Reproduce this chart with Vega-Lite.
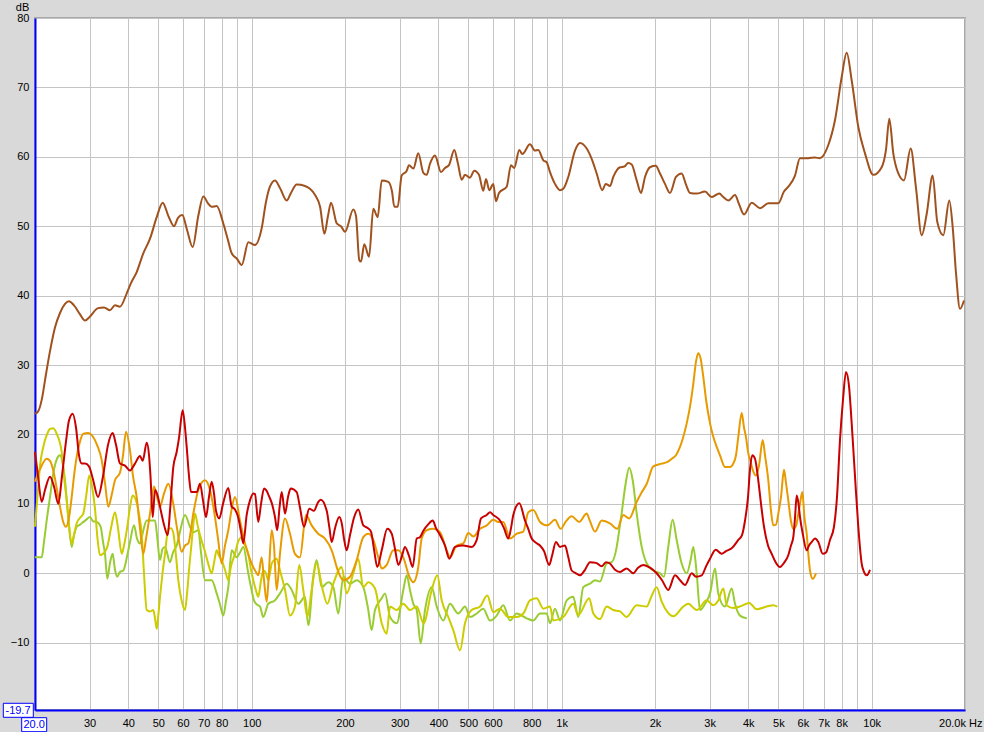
{
"$schema": "https://vega.github.io/schema/vega-lite/v6.json",
"width": 930, "height": 692,
"autosize": {"type": "none"},
"padding": {"left": 35, "top": 18, "right": 19, "bottom": 22},
"background": "#d9d9d9",
"config": {
  "view": {"fill": "white", "stroke": "#a8a8a8", "strokeWidth": 2},
  "font": "Liberation Sans",
  "axis": {"labelFont": "Liberation Sans", "labelFontSize": 11, "labelColor": "#000000", "gridColor": "#c4c4c4", "gridWidth": 1, "ticks": false, "domainColor": "#0000ff", "domainWidth": 2, "titleFont": "Liberation Sans"}
},
"datasets": {
"brown": [
{"f":20,"db":23.0},{"f":20.45,"db":23.3},{"f":21.07,"db":25.2},{"f":21.54,"db":27.8},{"f":22.36,"db":32.0},{"f":23.2,"db":35.4},{"f":24.08,"db":37.5},{"f":24.99,"db":38.8},{"f":25.75,"db":39.2},{"f":26.72,"db":38.6},{"f":27.95,"db":37.3},{"f":29.0,"db":36.4},{"f":30.1,"db":37.0},{"f":31.94,"db":38.2},{"f":33.39,"db":38.3},{"f":34.91,"db":37.9},{"f":36.23,"db":38.6},{"f":37.59,"db":38.4},{"f":39.51,"db":40.3},{"f":40.8,"db":41.8},{"f":42.57,"db":43.4},{"f":44.71,"db":46.1},{"f":46.99,"db":48.2},{"f":49.39,"db":51.3},{"f":51.64,"db":53.4},{"f":53.83,"db":51.5},{"f":56.16,"db":50.0},{"f":57.85,"db":51.2},{"f":59.73,"db":51.6},{"f":61.85,"db":49.5},{"f":64.52,"db":47.0},{"f":67.27,"db":51.5},{"f":69.81,"db":54.3},{"f":72.29,"db":53.3},{"f":74.31,"db":52.8},{"f":77.11,"db":52.9},{"f":81.0,"db":50.4},{"f":83.87,"db":48.0},{"f":86.21,"db":46.1},{"f":89.67,"db":45.3},{"f":92.86,"db":44.4},{"f":97.53,"db":47.7},{"f":102.5,"db":47.3},{"f":107.7,"db":49.7},{"f":111.2,"db":53.5},{"f":114.5,"db":55.7},{"f":118.9,"db":56.6},{"f":123.4,"db":55.5},{"f":129.7,"db":53.7},{"f":133.9,"db":54.8},{"f":139.7,"db":56.0},{"f":148.6,"db":55.8},{"f":160.1,"db":54.5},{"f":166.2,"db":52.8},{"f":171.6,"db":48.9},{"f":176.3,"db":51.5},{"f":180.3,"db":53.4},{"f":188.1,"db":50.4},{"f":194.1,"db":50.0},{"f":200,"db":49.2},{"f":212.7,"db":52.4},{"f":217.0,"db":51.5},{"f":222.4,"db":45.1},{"f":225.2,"db":44.9},{"f":230.8,"db":47.4},{"f":239.1,"db":45.6},{"f":246.8,"db":52.5},{"f":255.0,"db":51.3},{"f":262.7,"db":56.6},{"f":275.9,"db":56.4},{"f":283.6,"db":55.0},{"f":288.5,"db":52.8},{"f":295.8,"db":52.8},{"f":304.7,"db":57.3},{"f":316.3,"db":58.0},{"f":321.7,"db":58.8},{"f":332.2,"db":58.3},{"f":344.7,"db":60.5},{"f":357.8,"db":57.7},{"f":366.9,"db":57.4},{"f":376.0,"db":59.0},{"f":390.2,"db":60.2},{"f":408.0,"db":57.8},{"f":420.3,"db":58.4},{"f":432.9,"db":58.8},{"f":450.3,"db":61.0},{"f":462.9,"db":59.0},{"f":475.8,"db":56.7},{"f":487.6,"db":57.4},{"f":506.0,"db":57.0},{"f":522.5,"db":58.0},{"f":541.0,"db":57.4},{"f":558.6,"db":55.1},{"f":569.9,"db":56.8},{"f":584.1,"db":55.2},{"f":601.7,"db":56.1},{"f":613.9,"db":53.6},{"f":627.7,"db":54.8},{"f":664.6,"db":55.7},{"f":686.2,"db":58.8},{"f":703.2,"db":58.4},{"f":729.9,"db":61.0},{"f":746.3,"db":60.4},{"f":790.2,"db":61.8},{"f":820.2,"db":60.9},{"f":840.5,"db":61.0},{"f":872.4,"db":59.5},{"f":894.6,"db":59.2},{"f":916.8,"db":57.8},{"f":951.5,"db":56.1},{"f":987.4,"db":55.2},{"f":1012,"db":55.4},{"f":1050,"db":57.1},{"f":1104,"db":60.9},{"f":1146,"db":62.0},{"f":1204,"db":61.2},{"f":1255,"db":59.5},{"f":1297,"db":57.6},{"f":1352,"db":55.2},{"f":1387,"db":56.1},{"f":1432,"db":55.8},{"f":1467,"db":57.1},{"f":1542,"db":58.5},{"f":1592,"db":58.6},{"f":1640,"db":59.1},{"f":1682,"db":58.9},{"f":1746,"db":56.6},{"f":1802,"db":54.8},{"f":1857,"db":57.1},{"f":1927,"db":58.5},{"f":2010,"db":58.7},{"f":2076,"db":57.6},{"f":2154,"db":56.1},{"f":2236,"db":54.8},{"f":2337,"db":57.1},{"f":2438,"db":57.6},{"f":2518,"db":56.0},{"f":2594,"db":54.8},{"f":2726,"db":54.7},{"f":2899,"db":55.0},{"f":3047,"db":54.2},{"f":3146,"db":54.5},{"f":3224,"db":54.7},{"f":3322,"db":54.2},{"f":3447,"db":53.7},{"f":3623,"db":54.5},{"f":3732,"db":53.2},{"f":3874,"db":51.7},{"f":4102,"db":53.4},{"f":4362,"db":52.6},{"f":4641,"db":53.3},{"f":4997,"db":53.3},{"f":5213,"db":55.0},{"f":5383,"db":55.7},{"f":5658,"db":57.3},{"f":5871,"db":59.8},{"f":6244,"db":59.8},{"f":6562,"db":59.9},{"f":6810,"db":59.8},{"f":7246,"db":61.7},{"f":7616,"db":65.3},{"f":8004,"db":71.5},{"f":8307,"db":75.0},{"f":8621,"db":71.0},{"f":9055,"db":64.3},{"f":9515,"db":60.5},{"f":10120,"db":57.4},{"f":10770,"db":58.5},{"f":11120,"db":61.0},{"f":11400,"db":65.5},{"f":11740,"db":60.5},{"f":12190,"db":57.6},{"f":12710,"db":56.6},{"f":13360,"db":61.2},{"f":13900,"db":55.5},{"f":14500,"db":48.7},{"f":15050,"db":51.8},{"f":15730,"db":57.3},{"f":16280,"db":50.6},{"f":17020,"db":48.7},{"f":17800,"db":53.7},{"f":18250,"db":49.9},{"f":18710,"db":43.2},{"f":19270,"db":38.1},{"f":19850,"db":39.3}
],
"green": [
{"f":20,"db":2.3},{"f":21.02,"db":2.3},{"f":21.38,"db":4.5},{"f":21.81,"db":7.6},{"f":22.36,"db":11},{"f":22.91,"db":14.4},{"f":23.55,"db":16.5},{"f":24.08,"db":17},{"f":24.53,"db":16},{"f":24.99,"db":13.4},{"f":25.55,"db":8.5},{"f":26.27,"db":3.8},{"f":26.72,"db":5.5},{"f":27.26,"db":6.7},{"f":27.94,"db":7},{"f":28.63,"db":7.4},{"f":29.22,"db":7.7},{"f":30.09,"db":8.1},{"f":30.77,"db":7.5},{"f":31.63,"db":7.4},{"f":32.58,"db":6.7},{"f":33.15,"db":4.5},{"f":33.64,"db":2.8},{"f":34.22,"db":-0.8},{"f":34.91,"db":1.5},{"f":35.61,"db":2.8},{"f":36.23,"db":0.5},{"f":36.85,"db":-0.5},{"f":37.6,"db":0.2},{"f":38.54,"db":0.4},{"f":39.7,"db":2.6},{"f":40.5,"db":4.5},{"f":41.72,"db":6.9},{"f":42.67,"db":5},{"f":43.62,"db":4.3},{"f":44.61,"db":6},{"f":45.85,"db":7.6},{"f":46.99,"db":7.6},{"f":48.77,"db":7.6},{"f":49.5,"db":5.5},{"f":50.61,"db":1.9},{"f":51.56,"db":3.5},{"f":52.53,"db":3.8},{"f":54.51,"db":1.6},{"f":55.75,"db":3},{"f":57.3,"db":4},{"f":58.72,"db":6},{"f":60.94,"db":8.4},{"f":63.24,"db":6.7},{"f":64.81,"db":5.9},{"f":67.27,"db":6.2},{"f":68.63,"db":3},{"f":70.7,"db":-1},{"f":74.3,"db":-1},{"f":77.12,"db":-2.9},{"f":79.03,"db":-4.5},{"f":81.0,"db":-6.1},{"f":82.63,"db":-4},{"f":84.05,"db":-2},{"f":86.19,"db":3.3},{"f":89.46,"db":2.3},{"f":91.68,"db":3},{"f":93.95,"db":3.8},{"f":97.5,"db":0},{"f":99.5,"db":-2},{"f":101.7,"db":-3.9},{"f":104.0,"db":-4.5},{"f":106.4,"db":-4.8},{"f":109.0,"db":-6.3},{"f":113.1,"db":-4.4},{"f":118.9,"db":-3.9},{"f":123.4,"db":-2.9},{"f":129.7,"db":-1.5},{"f":134.6,"db":-2.4},{"f":141.3,"db":-4.4},{"f":148.6,"db":-3.4},{"f":152.3,"db":-7.5},{"f":158.0,"db":-0.5},{"f":162.0,"db":1.9},{"f":168.2,"db":-2},{"f":176.6,"db":-1.3},{"f":183.4,"db":-2},{"f":190.3,"db":-5.8},{"f":197.5,"db":-0.5},{"f":207.6,"db":-1.5},{"f":218.1,"db":-1},{"f":229.1,"db":-2},{"f":237.2,"db":-5},{"f":243.8,"db":-8.2},{"f":249.9,"db":-5.3},{"f":262.7,"db":-3.6},{"f":269.2,"db":-2.9},{"f":279.4,"db":-6.3},{"f":293.7,"db":-7.2},{"f":308.4,"db":-2.4},{"f":316.3,"db":-0.3},{"f":324.1,"db":-2.4},{"f":332.2,"db":-4.4},{"f":340.7,"db":-5.3},{"f":350.9,"db":-10.1},{"f":362.3,"db":-5.3},{"f":380.8,"db":-2},{"f":395.3,"db":-4.8},{"f":415.0,"db":-6.8},{"f":436.2,"db":-4.4},{"f":464.0,"db":-5.8},{"f":487.7,"db":-4.8},{"f":506.2,"db":-6.3},{"f":532.0,"db":-5.8},{"f":558.6,"db":-5.1},{"f":587.2,"db":-6.8},{"f":617.2,"db":-6.1},{"f":648.1,"db":-4.6},{"f":681.2,"db":-6.8},{"f":716.0,"db":-5.8},{"f":771.1,"db":-6.5},{"f":810.0,"db":-6.8},{"f":851.2,"db":-5.8},{"f":894.6,"db":-5.8},{"f":916.8,"db":-7.2},{"f":951.5,"db":-5.1},{"f":987.5,"db":-6.8},{"f":1038,"db":-3.9},{"f":1090,"db":-3.4},{"f":1131,"db":-6.3},{"f":1174,"db":-2},{"f":1234,"db":-1.5},{"f":1281,"db":-1},{"f":1329,"db":-1.2},{"f":1396,"db":1.4},{"f":1450,"db":1.6},{"f":1505,"db":3.8},{"f":1531,"db":6},{"f":1561,"db":8.6},{"f":1608,"db":12.9},{"f":1651,"db":15.2},{"f":1695,"db":13.4},{"f":1746,"db":8.6},{"f":1812,"db":3.8},{"f":1881,"db":1.4},{"f":1975,"db":0.4},{"f":2076,"db":0},{"f":2138,"db":-0.5},{"f":2207,"db":3.8},{"f":2280,"db":7.7},{"f":2349,"db":4.8},{"f":2438,"db":1.4},{"f":2531,"db":0},{"f":2606,"db":1.9},{"f":2658,"db":3.8},{"f":2726,"db":0},{"f":2794,"db":-5.3},{"f":2900,"db":-4.4},{"f":3010,"db":-2.9},{"f":3123,"db":0.7},{"f":3200,"db":-2.9},{"f":3364,"db":-4.8},{"f":3535,"db":-2.2},{"f":3623,"db":-4.4},{"f":3760,"db":-6.1},{"f":3957,"db":-6.5}
],
"yellow": [
{"f":20,"db":6.7},{"f":20.45,"db":12},{"f":20.76,"db":15.5},{"f":21.27,"db":18.2},{"f":21.86,"db":20},{"f":22.36,"db":20.8},{"f":22.91,"db":20.9},{"f":23.55,"db":20},{"f":24.38,"db":17.5},{"f":24.8,"db":14},{"f":25.31,"db":10.5},{"f":25.74,"db":7},{"f":26.27,"db":4.3},{"f":26.72,"db":5.5},{"f":27.26,"db":7.2},{"f":27.94,"db":8},{"f":28.63,"db":8.6},{"f":29.22,"db":11},{"f":29.93,"db":14.1},{"f":30.54,"db":12.5},{"f":31.23,"db":9.3},{"f":31.82,"db":5},{"f":32.41,"db":2.6},{"f":33.15,"db":2.8},{"f":34.22,"db":3.8},{"f":35.17,"db":6.5},{"f":36.23,"db":8.8},{"f":37.05,"db":6.5},{"f":38.08,"db":2.8},{"f":38.74,"db":4},{"f":39.7,"db":6.7},{"f":40.5,"db":9.5},{"f":41.32,"db":11.2},{"f":42.56,"db":10.2},{"f":43.3,"db":8.5},{"f":44.18,"db":5.7},{"f":44.94,"db":0},{"f":45.85,"db":-5.3},{"f":46.99,"db":-5.5},{"f":48.16,"db":-5.3},{"f":48.77,"db":-6.5},{"f":49.39,"db":-8},{"f":49.87,"db":-6.5},{"f":50.61,"db":-3.4},{"f":51.56,"db":0},{"f":52.53,"db":2.8},{"f":53.83,"db":6.4},{"f":54.92,"db":6.5},{"f":55.87,"db":5.8},{"f":57.0,"db":2.5},{"f":57.98,"db":-1},{"f":59.16,"db":-3.5},{"f":60.94,"db":-5.3},{"f":61.85,"db":-3},{"f":62.9,"db":0.9},{"f":64.19,"db":5},{"f":65.64,"db":8.6},{"f":66.87,"db":7},{"f":68.12,"db":5.5},{"f":70.7,"db":3.1},{"f":72.29,"db":1.5},{"f":74.3,"db":0},{"f":75.59,"db":1.5},{"f":77.12,"db":3.3},{"f":78.45,"db":2.5},{"f":80.03,"db":1.9},{"f":82.02,"db":0.5},{"f":84.05,"db":-1},{"f":85.75,"db":1},{"f":88.34,"db":2.8},{"f":90.33,"db":4.5},{"f":92.84,"db":5.2},{"f":95.15,"db":4},{"f":97.5,"db":2.8},{"f":99.5,"db":0.5},{"f":101.2,"db":-1},{"f":103.3,"db":-2.5},{"f":105.0,"db":-3.4},{"f":107.2,"db":-1},{"f":109.0,"db":0.4},{"f":111.2,"db":0},{"f":113.1,"db":-1},{"f":116.3,"db":1.5},{"f":120.4,"db":2.1},{"f":123.4,"db":0.4},{"f":128.1,"db":-2.4},{"f":132.9,"db":-6.1},{"f":137.9,"db":-4.8},{"f":142.4,"db":1.2},{"f":146.7,"db":-2.4},{"f":151.2,"db":-6.3},{"f":156.1,"db":-2.4},{"f":162.0,"db":1.4},{"f":169.5,"db":-2.4},{"f":175.3,"db":-4.4},{"f":183.4,"db":-1.5},{"f":195.1,"db":0.9},{"f":202.5,"db":-2.9},{"f":212.7,"db":0},{"f":220.7,"db":2.1},{"f":229.1,"db":-2},{"f":237.7,"db":-1.3},{"f":249.9,"db":-2.2},{"f":262.7,"db":-7.2},{"f":272.6,"db":-8.7},{"f":279.4,"db":-4.8},{"f":293.7,"db":-5.3},{"f":308.4,"db":-4.4},{"f":324.1,"db":-5.3},{"f":340.7,"db":-4.8},{"f":358.7,"db":-7.2},{"f":380.8,"db":-2.4},{"f":397.0,"db":-0.3},{"f":410.1,"db":-3.9},{"f":430.7,"db":-6.3},{"f":447.1,"db":-8.2},{"f":469.9,"db":-11.1},{"f":487.7,"db":-7.2},{"f":512.5,"db":-5.3},{"f":545.2,"db":-4.8},{"f":575.5,"db":-3.2},{"f":601.7,"db":-5.6},{"f":632.4,"db":-5.1},{"f":672.6,"db":-6.3},{"f":716.0,"db":-6.3},{"f":751.9,"db":-5.8},{"f":790.3,"db":-3.9},{"f":830.6,"db":-3.6},{"f":872.3,"db":-5.1},{"f":916.8,"db":-4.8},{"f":939.5,"db":-6.8},{"f":1012,"db":-6.3},{"f":1090,"db":-4.4},{"f":1131,"db":-6},{"f":1227,"db":-3.6},{"f":1265,"db":-5.8},{"f":1329,"db":-6.6},{"f":1396,"db":-4.8},{"f":1467,"db":-5.3},{"f":1542,"db":-5.5},{"f":1620,"db":-6.3},{"f":1746,"db":-4.6},{"f":1881,"db":-4.8},{"f":1941,"db":-3.5},{"f":2025,"db":-2},{"f":2102,"db":-4.1},{"f":2186,"db":-5.5},{"f":2291,"db":-6.2},{"f":2467,"db":-4.8},{"f":2560,"db":-4.4},{"f":2726,"db":-5.3},{"f":2937,"db":-3.9},{"f":3083,"db":-4.6},{"f":3193,"db":-4},{"f":3322,"db":-2.2},{"f":3407,"db":-4.6},{"f":3570,"db":-5},{"f":3760,"db":-4.8},{"f":4028,"db":-4.3},{"f":4256,"db":-5.2},{"f":4585,"db":-4.8},{"f":4815,"db":-4.6},{"f":4961,"db":-4.8}
],
"orange": [
{"f":20,"db":13.2},{"f":20.76,"db":15},{"f":21.81,"db":16.5},{"f":22.36,"db":16.2},{"f":22.91,"db":14.8},{"f":23.55,"db":12},{"f":24.08,"db":9.6},{"f":24.62,"db":7.5},{"f":25.18,"db":6.7},{"f":25.74,"db":8},{"f":26.27,"db":11},{"f":26.72,"db":14},{"f":27.26,"db":16.8},{"f":27.94,"db":19},{"f":28.63,"db":20.1},{"f":29.65,"db":20.2},{"f":30.84,"db":19.6},{"f":31.7,"db":18.5},{"f":32.82,"db":16.3},{"f":33.64,"db":13},{"f":34.47,"db":9.6},{"f":35.43,"db":11.5},{"f":36.23,"db":13.4},{"f":37.6,"db":14.5},{"f":38.46,"db":17},{"f":39.32,"db":20.4},{"f":40.5,"db":17.7},{"f":41.42,"db":14},{"f":42.56,"db":11},{"f":43.62,"db":6.5},{"f":44.71,"db":2.8},{"f":45.62,"db":5},{"f":46.99,"db":8.6},{"f":48.41,"db":12.5},{"f":49.5,"db":11},{"f":50.61,"db":9.6},{"f":52.14,"db":11.5},{"f":53.83,"db":12.9},{"f":55.87,"db":10},{"f":57.43,"db":6.5},{"f":59.46,"db":3.1},{"f":60.94,"db":4},{"f":62.45,"db":4.3},{"f":64.81,"db":8.6},{"f":67.27,"db":12},{"f":70.7,"db":13.4},{"f":73.37,"db":12},{"f":76.15,"db":8.1},{"f":77.87,"db":5},{"f":80.03,"db":1.4},{"f":82.02,"db":4},{"f":84.05,"db":6.2},{"f":86.4,"db":9.5},{"f":88.34,"db":11},{"f":91.68,"db":7.6},{"f":95.15,"db":4.3},{"f":100.0,"db":1.4},{"f":103.8,"db":0},{"f":105.0,"db":-0.3},{"f":107.7,"db":2.3},{"f":109.6,"db":-1},{"f":111.8,"db":-4.1},{"f":113.3,"db":-1},{"f":116.0,"db":6.2},{"f":118.0,"db":4},{"f":120.4,"db":-2.4},{"f":123.4,"db":2.8},{"f":128.1,"db":7.9},{"f":132.9,"db":5.7},{"f":137.9,"db":2.8},{"f":143.1,"db":2.3},{"f":149.7,"db":8.4},{"f":156.1,"db":6.9},{"f":163.9,"db":5.7},{"f":172.4,"db":5},{"f":181.2,"db":3.3},{"f":190.3,"db":0.2},{"f":197.5,"db":-1},{"f":207.6,"db":-0.5},{"f":218.1,"db":1.9},{"f":229.1,"db":5.2},{"f":237.7,"db":5.7},{"f":246.8,"db":4.8},{"f":256.1,"db":2.3},{"f":262.7,"db":0.7},{"f":272.6,"db":1.2},{"f":286.3,"db":3.3},{"f":297.2,"db":3.3},{"f":308.4,"db":2.3},{"f":322.6,"db":-0.5},{"f":332.2,"db":-1.3},{"f":344.7,"db":0.9},{"f":353.5,"db":5},{"f":366.9,"db":6.2},{"f":385.4,"db":6.4},{"f":405.1,"db":5.9},{"f":425.6,"db":3.3},{"f":436.2,"db":2.3},{"f":458.5,"db":4},{"f":481.6,"db":4.3},{"f":499.8,"db":5.8},{"f":518.7,"db":5.3},{"f":545.2,"db":6.4},{"f":573.0,"db":6.9},{"f":601.7,"db":7.7},{"f":624.5,"db":7.4},{"f":648.1,"db":7.4},{"f":681.2,"db":5},{"f":716.0,"db":5.7},{"f":751.9,"db":6},{"f":780.4,"db":8.8},{"f":810.0,"db":9.1},{"f":851.2,"db":7.4},{"f":898.6,"db":6.9},{"f":951.5,"db":7.7},{"f":992.7,"db":6.4},{"f":1033,"db":7.5},{"f":1077,"db":8.2},{"f":1139,"db":7.4},{"f":1204,"db":8.6},{"f":1234,"db":7.5},{"f":1281,"db":6},{"f":1346,"db":7.6},{"f":1431,"db":7.2},{"f":1511,"db":6.4},{"f":1580,"db":8.4},{"f":1651,"db":7.9},{"f":1746,"db":10.3},{"f":1803,"db":11.5},{"f":1881,"db":12.9},{"f":1975,"db":15.4},{"f":2102,"db":15.8},{"f":2186,"db":16},{"f":2264,"db":16.5},{"f":2337,"db":17},{"f":2408,"db":18.2},{"f":2462,"db":19.5},{"f":2531,"db":21.6},{"f":2594,"db":24},{"f":2658,"db":27.3},{"f":2712,"db":30.5},{"f":2758,"db":31.7},{"f":2804,"db":31},{"f":2863,"db":28.3},{"f":2922,"db":25},{"f":3010,"db":21.6},{"f":3077,"db":19.8},{"f":3163,"db":18.2},{"f":3241,"db":17},{"f":3364,"db":15.3},{"f":3491,"db":15.3},{"f":3577,"db":15.8},{"f":3650,"db":17},{"f":3712,"db":19.6},{"f":3808,"db":23.1},{"f":3874,"db":21},{"f":3932,"db":19.6},{"f":3991,"db":17.5},{"f":4071,"db":16},{"f":4141,"db":14.8},{"f":4234,"db":14.1},{"f":4330,"db":15.5},{"f":4451,"db":19.2},{"f":4528,"db":17},{"f":4640,"db":13.4},{"f":4734,"db":9},{"f":4815,"db":6.9},{"f":4913,"db":7},{"f":4998,"db":8.6},{"f":5099,"db":11},{"f":5214,"db":14.9},{"f":5292,"db":13},{"f":5383,"db":10.5},{"f":5492,"db":7.5},{"f":5587,"db":6.4},{"f":5700,"db":6.8},{"f":5798,"db":8.6},{"f":5872,"db":10},{"f":5976,"db":11.7},{"f":6071,"db":8},{"f":6171,"db":5.7},{"f":6254,"db":2.5},{"f":6324,"db":0.4},{"f":6452,"db":-0.8},{"f":6613,"db":0}
],
"red": [
{"f":20,"db":17.5},{"f":20.45,"db":14},{"f":21.02,"db":10.3},{"f":21.54,"db":12},{"f":22.36,"db":13.9},{"f":23.03,"db":12.5},{"f":23.78,"db":10},{"f":24.44,"db":14},{"f":25.18,"db":19},{"f":25.74,"db":22},{"f":26.46,"db":23},{"f":27.12,"db":21},{"f":27.73,"db":17},{"f":28.3,"db":15.8},{"f":29.0,"db":15.8},{"f":29.87,"db":15.4},{"f":30.77,"db":13.5},{"f":31.93,"db":11},{"f":33.15,"db":14},{"f":34.4,"db":18.5},{"f":35.61,"db":20.2},{"f":36.5,"db":18.5},{"f":37.6,"db":15.8},{"f":39.03,"db":15.5},{"f":40.5,"db":14.8},{"f":42.03,"db":15.8},{"f":43.62,"db":16.9},{"f":44.51,"db":16.2},{"f":45.85,"db":18.8},{"f":46.65,"db":17},{"f":47.16,"db":14},{"f":47.94,"db":8.1},{"f":48.77,"db":12},{"f":49.87,"db":11},{"f":50.61,"db":9.6},{"f":52.14,"db":7},{"f":53.6,"db":5.5},{"f":54.51,"db":9},{"f":55.87,"db":15.3},{"f":57.3,"db":17.5},{"f":58.29,"db":19.5},{"f":59.9,"db":23.5},{"f":60.94,"db":21},{"f":61.71,"db":18.2},{"f":62.78,"db":14},{"f":63.72,"db":11.7},{"f":66.47,"db":11.7},{"f":68.12,"db":12.9},{"f":69.66,"db":10.5},{"f":71.23,"db":8.1},{"f":72.83,"db":11},{"f":74.3,"db":13.2},{"f":75.59,"db":11.5},{"f":76.72,"db":9},{"f":78.63,"db":7.9},{"f":80.81,"db":10},{"f":84.05,"db":12.3},{"f":86.19,"db":9.6},{"f":88.34,"db":9.2},{"f":90.53,"db":8},{"f":92.36,"db":6},{"f":93.95,"db":4.3},{"f":96.36,"db":8.4},{"f":98.75,"db":10.5},{"f":101.2,"db":11.5},{"f":102.5,"db":11.4},{"f":105.0,"db":7.4},{"f":107.2,"db":10},{"f":109.6,"db":12.2},{"f":111.2,"db":12},{"f":114.0,"db":11},{"f":116.3,"db":10},{"f":118.9,"db":8.1},{"f":120.9,"db":6.2},{"f":123.0,"db":9.5},{"f":125.0,"db":11.7},{"f":128.1,"db":8.6},{"f":131.0,"db":11},{"f":133.6,"db":12.2},{"f":139.7,"db":11.7},{"f":143.1,"db":9.5},{"f":147.5,"db":6.7},{"f":153.4,"db":9.3},{"f":158.8,"db":9},{"f":163.6,"db":10.2},{"f":167.0,"db":10.6},{"f":174.6,"db":9},{"f":178.2,"db":6.5},{"f":181.2,"db":4.5},{"f":185.7,"db":6.5},{"f":191.7,"db":8.1},{"f":195.6,"db":7},{"f":198.5,"db":5},{"f":202.5,"db":3.3},{"f":207.6,"db":5.5},{"f":213.8,"db":8},{"f":220.7,"db":9.2},{"f":229.1,"db":6.9},{"f":237.2,"db":6.5},{"f":242.6,"db":6},{"f":248.0,"db":3.5},{"f":254.2,"db":0.9},{"f":262.7,"db":3.3},{"f":273.8,"db":6.4},{"f":282.9,"db":5.7},{"f":290.0,"db":3.5},{"f":297.2,"db":1.2},{"f":305.4,"db":2.5},{"f":312.3,"db":3.8},{"f":321.7,"db":2.5},{"f":330.7,"db":0.9},{"f":340.7,"db":5},{"f":349.1,"db":5.2},{"f":358.7,"db":6.2},{"f":370.5,"db":7},{"f":383.7,"db":7.6},{"f":393.2,"db":6.5},{"f":405.1,"db":5.5},{"f":420.3,"db":4},{"f":433.9,"db":2.1},{"f":452.8,"db":3.8},{"f":481.6,"db":4},{"f":512.5,"db":3.8},{"f":532.0,"db":4.8},{"f":549.2,"db":7.9},{"f":573.0,"db":8.4},{"f":587.2,"db":8.8},{"f":601.7,"db":8.4},{"f":632.4,"db":7.6},{"f":651.5,"db":6.5},{"f":672.6,"db":5},{"f":686.3,"db":6.5},{"f":698.1,"db":8.4},{"f":730.0,"db":10.1},{"f":761.5,"db":7.6},{"f":778.7,"db":6.5},{"f":800.3,"db":5},{"f":820.2,"db":4.5},{"f":851.2,"db":4},{"f":876.8,"db":3.2},{"f":911.7,"db":1.2},{"f":930.6,"db":2.5},{"f":958.6,"db":4.5},{"f":987.5,"db":3.8},{"f":1025,"db":4},{"f":1048,"db":2.5},{"f":1077,"db":0.4},{"f":1112,"db":0},{"f":1146,"db":-0.3},{"f":1189,"db":0.5},{"f":1234,"db":1.6},{"f":1291,"db":1.5},{"f":1346,"db":1.0},{"f":1389,"db":1.6},{"f":1431,"db":1.4},{"f":1486,"db":0.5},{"f":1542,"db":0.2},{"f":1620,"db":0.7},{"f":1702,"db":0},{"f":1763,"db":0.8},{"f":1834,"db":1.2},{"f":1927,"db":0.8},{"f":2025,"db":0},{"f":2107,"db":-1},{"f":2207,"db":-2.4},{"f":2320,"db":-0.3},{"f":2408,"db":-1},{"f":2499,"db":-1.7},{"f":2627,"db":0},{"f":2712,"db":-0.5},{"f":2830,"db":-0.3},{"f":2922,"db":1},{"f":3010,"db":2.1},{"f":3139,"db":3.4},{"f":3282,"db":2.8},{"f":3389,"db":3.2},{"f":3535,"db":3.6},{"f":3712,"db":4.8},{"f":3817,"db":5.5},{"f":3903,"db":7.6},{"f":3991,"db":11},{"f":4051,"db":15},{"f":4119,"db":17},{"f":4203,"db":16.5},{"f":4307,"db":13.4},{"f":4395,"db":10},{"f":4494,"db":6.7},{"f":4630,"db":4},{"f":4758,"db":2.8},{"f":4913,"db":1.5},{"f":5062,"db":0.9},{"f":5214,"db":1.5},{"f":5383,"db":2.6},{"f":5492,"db":4},{"f":5587,"db":5.2},{"f":5658,"db":8},{"f":5730,"db":11.2},{"f":5807,"db":10},{"f":5872,"db":8.1},{"f":6004,"db":5.5},{"f":6171,"db":3.3},{"f":6278,"db":4},{"f":6404,"db":4.5},{"f":6564,"db":5},{"f":6726,"db":4.5},{"f":6950,"db":2.8},{"f":7123,"db":3},{"f":7337,"db":4.8},{"f":7558,"db":6.7},{"f":7729,"db":11},{"f":7903,"db":19.2},{"f":8081,"db":25},{"f":8263,"db":29},{"f":8449,"db":27},{"f":8620,"db":21.6},{"f":8834,"db":14},{"f":9053,"db":6.7},{"f":9284,"db":1.4},{"f":9444,"db":0.2},{"f":9636,"db":-0.3},{"f":9875,"db":0.5}
],
"ybox": [{"f":20,"db":-19.7,"t":"-19.7"}],
"xbox": [{"f":20,"db":-19.7,"t":"20.0"}]
},
"encoding": {
  "x": {"field": "f", "type": "quantitative",
        "scale": {"type": "log", "domain": [20, 20000], "nice": false},
        "axis": {"title": null, "grid": true, "values": [20,30,40,50,60,70,80,90,100,200,300,400,500,600,700,800,900,1000,2000,3000,4000,5000,6000,7000,8000,9000,10000,20000],
                 "labelExpr": "datum.value == 20 || datum.value == 90 || datum.value == 700 || datum.value == 900 || datum.value == 9000 ? '' : datum.value == 20000 ? '20.0k Hz' : datum.value >= 1000 ? (datum.value / 1000) + 'k' : '' + datum.value",
                 "labelPadding": 7, "labelFlush": false, "labelOverlap": false, "labelBound": false,
                 "labelAlign": {"condition": {"test": "datum.value == 20000", "value": "right"}, "value": "center"},
                 "labelOffset": {"condition": {"test": "datum.value == 20000", "value": 17}, "value": 0}}},
  "y": {"field": "db", "type": "quantitative",
        "scale": {"domain": [-19.7, 80], "nice": false, "zero": false},
        "axis": {"title": "dB", "titleAngle": 0, "titleX": -13, "titleY": -11, "titleAlign": "center", "titleBaseline": "middle", "titleFontWeight": "normal", "titleFontSize": 11, "titleColor": "#000000",
                 "values": [-10,0,10,20,30,40,50,60,70,80], "labelPadding": 6, "grid": true, "labelFlush": false, "labelOverlap": false}}
},
"layer": [
  {"data": {"name": "brown"}, "mark": {"type": "line", "interpolate": "monotone", "color": "#A0521E", "strokeWidth": 2}},
  {"data": {"name": "green"}, "mark": {"type": "line", "interpolate": "monotone", "color": "#99CC33", "strokeWidth": 2}},
  {"data": {"name": "yellow"}, "mark": {"type": "line", "interpolate": "monotone", "color": "#CCCC00", "strokeWidth": 2}},
  {"data": {"name": "orange"}, "mark": {"type": "line", "interpolate": "monotone", "color": "#E89B00", "strokeWidth": 2}},
  {"data": {"name": "red"}, "mark": {"type": "line", "interpolate": "monotone", "color": "#C80000", "strokeWidth": 2}},
  {"data": {"name": "ybox"}, "mark": {"type": "point", "shape": "M-1,-0.467L1,-0.467L1,0.467L-1,0.467Z", "size": 900, "filled": true, "fill": "white", "stroke": "#0000ff", "strokeWidth": 1, "opacity": 1, "xOffset": -16.7, "yOffset": 0.3}},
  {"data": {"name": "ybox"}, "mark": {"type": "text", "color": "#0000ff", "fontSize": 11, "font": "Liberation Sans", "xOffset": -17, "yOffset": 0.5, "align": "center", "baseline": "middle"}, "encoding": {"text": {"field": "t"}}},
  {"data": {"name": "xbox"}, "mark": {"type": "point", "shape": "M-1,-0.56L1,-0.56L1,0.56L-1,0.56Z", "size": 625, "filled": true, "fill": "white", "stroke": "#0000ff", "strokeWidth": 1, "opacity": 1, "xOffset": -0.8, "yOffset": 14.7}},
  {"data": {"name": "xbox"}, "mark": {"type": "text", "color": "#0000ff", "fontSize": 11, "font": "Liberation Sans", "xOffset": -0.8, "yOffset": 15, "align": "center", "baseline": "middle"}, "encoding": {"text": {"field": "t"}}}
]
}
